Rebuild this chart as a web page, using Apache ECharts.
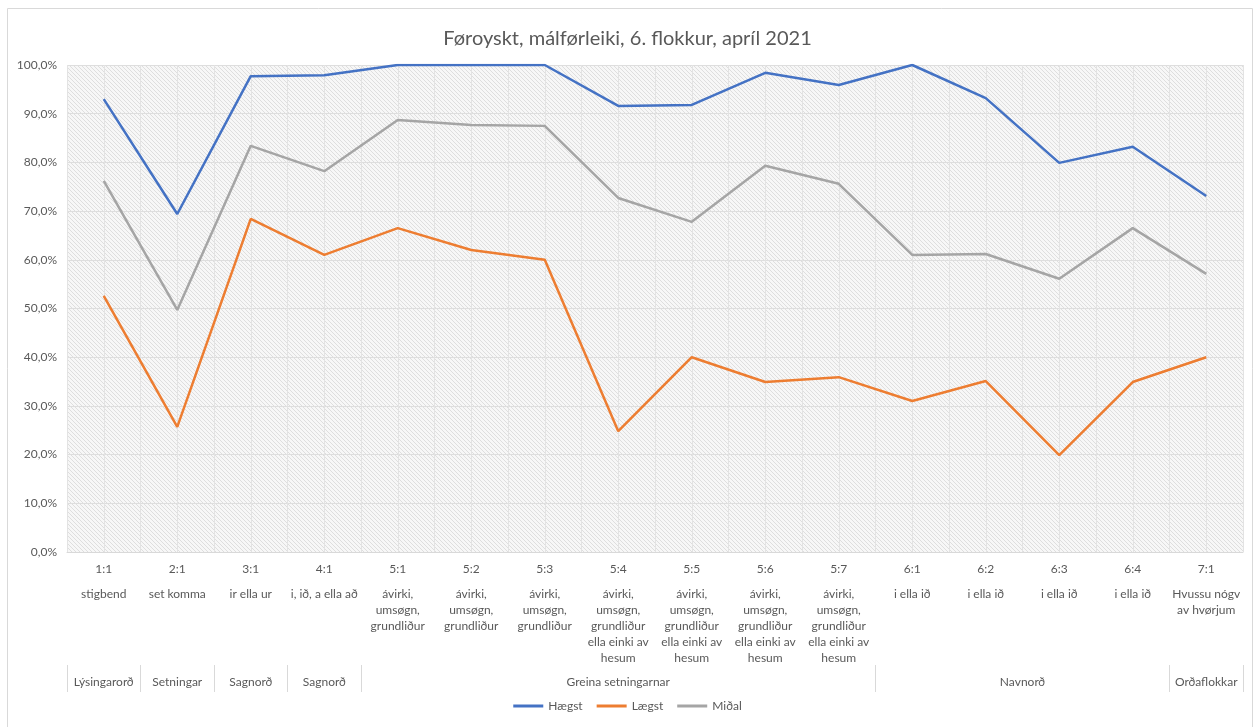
<!DOCTYPE html>
<html lang="fo">
<head>
    <meta charset="UTF-8">
    <title>Føroyskt, málførleiki</title>
    <script src="https://cdn.jsdelivr.net/npm/echarts@6/dist/echarts.min.js"></script>
    <style type="text/css">
        body{margin:0;background:#fff;}
        #chart{width:1255px;height:727px;}
    </style>
</head>
<body>
<div id="chart"></div>
<script type="text/javascript">
    // data
    var codes = ['1:1', '2:1', '3:1', '4:1', '5:1', '5:2', '5:3', '5:4', '5:5', '5:6', '5:7', '6:1', '6:2', '6:3', '6:4', '7:1'];
    var descs = ['stigbend', 'set komma', 'ir ella ur', 'i, ið, a ella að',
        'ávirki,\numsøgn,\ngrundliður', 'ávirki,\numsøgn,\ngrundliður', 'ávirki,\numsøgn,\ngrundliður',
        'ávirki,\numsøgn,\ngrundliður\nella einki av\nhesum', 'ávirki,\numsøgn,\ngrundliður\nella einki av\nhesum',
        'ávirki,\numsøgn,\ngrundliður\nella einki av\nhesum', 'ávirki,\numsøgn,\ngrundliður\nella einki av\nhesum',
        'i ella ið', 'i ella ið', 'i ella ið', 'i ella ið', 'Hvussu nógv\nav hvørjum'];
    var groups = ['Lýsingarorð', 'Setningar', 'Sagnorð', 'Sagnorð', 'Greina setningarnar', 'Navnorð', 'Orðaflokkar'];
    var groupSizes = [1, 1, 1, 1, 7, 4, 1];

    var haegst = [93.0, 69.4, 97.7, 97.9, 100, 100, 100, 91.6, 91.8, 98.4, 95.9, 100, 93.2, 79.9, 83.2, 73.1];
    var laegst = [52.6, 25.7, 68.4, 61.0, 66.5, 62.0, 60.0, 24.8, 40.0, 34.9, 35.9, 31.0, 35.1, 19.9, 34.9, 40.0];
    var midal = [76.2, 49.7, 83.4, 78.2, 88.7, 87.7, 87.5, 72.7, 67.8, 79.3, 75.6, 61.0, 61.2, 56.1, 66.5, 57.1];

    var yTicks = [0, 10, 20, 30, 40, 50, 60, 70, 80, 90, 100];

    // half-step axis for the group row (boundaries and centres)
    var halfSteps = [];
    for (var i = 0; i <= codes.length * 2; i++) halfSteps.push(String(i));
    var groupAt = {}, groupEdges = {0: true};
    var pos = 0;
    for (var g = 0; g < groups.length; g++) {
        groupAt[pos * 2 + groupSizes[g]] = groups[g];
        pos += groupSizes[g];
        groupEdges[pos * 2] = true;
    }

    // hatched plot background
    var tile = document.createElement('canvas');
    tile.width = 4; tile.height = 4;
    var ctx = tile.getContext('2d');
    ctx.fillStyle = '#f7f7f7';
    ctx.fillRect(0, 0, 4, 4);
    ctx.fillStyle = '#dedede';
    for (var k = 0; k < 4; k++) ctx.fillRect(k, k, 1, 1);

    var font = 'Lato, "Open Sans", sans-serif';
    var gridColor = '#d9d9d9';
    var txt = '#595959';

    var chart = echarts.init(document.getElementById('chart'));
    chart.setOption({
        textStyle: {fontFamily: font},
        title: {
            text: 'Føroyskt, málførleiki, 6. flokkur, apríl 2021',
            left: 'center', top: 24,
            textStyle: {fontSize: 20, fontWeight: 'normal', color: txt, fontFamily: font}
        },
        graphic: [{
            type: 'rect', silent: true,
            shape: {x: 7.5, y: 8.5, width: 1245, height: 730},
            style: {fill: 'none', stroke: '#d9d9d9', lineWidth: 1}
        }],
        legend: {
            bottom: 10, left: 'center',
            icon: 'rect', itemWidth: 30, itemHeight: 3, itemGap: 14,
            textStyle: {color: txt, fontSize: 12, fontFamily: font},
            data: ['Hægst', 'Lægst', 'Miðal']
        },
        grid: {
            left: 67, right: 12, top: 65, bottom: 175,
            show: true, borderWidth: 0,
            backgroundColor: {image: tile, repeat: 'repeat'}
        },
        xAxis: [{
            type: 'category',
            data: codes,
            boundaryGap: true,
            axisLine: {lineStyle: {color: gridColor}},
            axisTick: {length: 113, lineStyle: {color: gridColor}},
            splitLine: {show: false},
            axisLabel: {
                interval: 0, margin: 0, color: txt, fontSize: 12,
                formatter: function (v, idx) {
                    var lines = descs[idx].split('\n').map(function (s) { return '{d|' + s + '}'; });
                    return '{c|' + v + '}\n' + lines.join('\n');
                },
                rich: {
                    c: {lineHeight: 34, fontSize: 12, color: txt, fontFamily: font},
                    d: {lineHeight: 16, fontSize: 12, color: txt, fontFamily: font}
                }
            }
        }, {
            type: 'category',
            data: halfSteps,
            boundaryGap: false,
            position: 'bottom',
            offset: 113,
            axisLine: {show: false, lineStyle: {color: 'rgba(0,0,0,0)'}},
            axisTick: {
                length: 27, lineStyle: {color: gridColor},
                interval: function (idx) { return !!groupEdges[idx]; }
            },
            splitLine: {show: true, interval: 0, lineStyle: {color: '#e3e3e3', width: 1}},
            axisLabel: {
                interval: 0, margin: 11, color: txt, fontSize: 12,
                formatter: function (v, idx) { return groupAt[idx] || ''; }
            }
        }],
        yAxis: {
            type: 'value',
            min: yTicks[0], max: yTicks[yTicks.length - 1], interval: 10,
            axisLine: {show: false},
            axisTick: {show: false},
            splitLine: {lineStyle: {color: '#dedede'}},
            axisLabel: {
                color: txt, fontSize: 12, margin: 10,
                formatter: function (v) { return v.toFixed(1).replace('.', ',') + '%'; }
            }
        },
        series: [{
            name: 'Hægst', type: 'line', data: haegst, xAxisIndex: 0,
            showSymbol: false, lineStyle: {width: 2.5, color: '#4472c4'}, itemStyle: {color: '#4472c4'}
        }, {
            name: 'Lægst', type: 'line', data: laegst, xAxisIndex: 0,
            showSymbol: false, lineStyle: {width: 2.5, color: '#ed7d31'}, itemStyle: {color: '#ed7d31'}
        }, {
            name: 'Miðal', type: 'line', data: midal, xAxisIndex: 0,
            showSymbol: false, lineStyle: {width: 2.5, color: '#a5a5a5'}, itemStyle: {color: '#a5a5a5'}
        }]
    });
</script>
</body>
</html>
